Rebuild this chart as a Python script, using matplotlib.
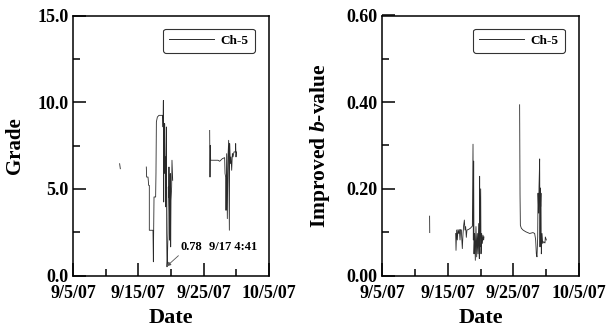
import numpy as np
import pandas as pd
import matplotlib
matplotlib.use("Agg")
import matplotlib.pyplot as plt
import matplotlib.dates as mdates
from matplotlib.ticker import FuncFormatter, MultipleLocator

# ---- data (days since 2007-09-05, value); NaN separates segments ----
base_date = "2007-09-05"

grade_days = [7.14, 7.24, np.nan,
              11.22, 11.27, 11.48, 11.58, 11.68, 11.68, 12.24, 12.30, 12.40, 12.65, 12.70,
              12.76, 12.91, 13.16, 13.72, 13.78, 13.83, 13.88, 13.93, 13.98, 14.03, 14.08,
              14.13, 14.18, 14.23, 14.29, 14.34, 14.39, 14.44, 14.54, 14.59, 14.64, 14.69,
              14.74, 14.80, 14.85, 14.90, 14.95, 15.00, 15.10, 15.15, 15.26, np.nan,
              20.92, 20.97, 21.02, 21.07, 22.19, 22.45, 22.86, 23.21, 23.27, 23.37, 23.42,
              23.52, 23.62, 23.72, 23.83, 23.93, 23.98, 24.08, 24.18, 24.29, 24.39, 24.49,
              24.64, 24.85, 24.90, 24.95, 25.00]
grade_vals = [6.45, 6.16, np.nan,
              6.26, 5.68, 5.68, 5.20, 5.20, 2.61, 2.61, 0.79, 4.53, 4.53, 5.88,
              8.85, 9.14, 9.24, 9.24, 8.57, 10.10, 4.24, 8.76, 6.26, 8.76, 5.88,
              6.84, 3.96, 6.26, 8.57, 2.42, 0.50, 0.78, 2.42, 5.11, 4.53, 6.26,
              4.34, 2.04, 3.96, 5.88, 1.65, 4.34, 5.11, 6.65, 5.49, np.nan,
              8.37, 5.68, 7.51, 6.65, 6.65, 6.59, 6.74, 6.80, 5.88, 5.68, 3.76,
              7.03, 3.28, 6.84, 7.80, 2.61, 7.61, 6.45, 6.84, 6.07, 7.03, 6.84,
              7.13, 7.13, 7.61, 6.84, 7.13]

b_days = [7.25, 7.27, np.nan,
          11.22, 11.27, 11.37, 11.47, 11.57, 11.68, 11.78, 11.88, 11.98, 12.08, 12.23,
          12.34, 12.44, 12.54, 12.64, 12.74, 12.84, 12.94, 13.15, 13.45, 13.76, 13.86,
          13.91, 13.96, 14.01, 14.11, 14.21, 14.31, 14.42, 14.52, 14.62, 14.72, 14.82,
          14.87, 14.92, 15.03, 15.08, 15.18, 15.28, 15.38, 15.48, 15.53, np.nan,
          20.96, 21.02, 21.07, 21.22, 21.47, 21.88, 22.49, 22.99, 23.25, 23.40, 23.50,
          23.60, 23.71, 23.76, 23.86, 23.91, 24.01, 24.06, 24.11, 24.16, 24.21, 24.26,
          24.37, 24.47, 24.62, 24.82, 24.87, 25.03]
b_vals = [0.137, 0.099, np.nan,
          0.097, 0.058, 0.105, 0.082, 0.106, 0.097, 0.106, 0.082, 0.106, 0.105, 0.062,
          0.097, 0.116, 0.128, 0.105, 0.113, 0.088, 0.105, 0.106, 0.109, 0.114, 0.303,
          0.082, 0.264, 0.050, 0.097, 0.035, 0.113, 0.043, 0.097, 0.050, 0.120, 0.039,
          0.229, 0.066, 0.200, 0.050, 0.097, 0.074, 0.093, 0.082, 0.089, np.nan,
          0.394, 0.186, 0.116, 0.109, 0.105, 0.101, 0.097, 0.099, 0.097, 0.082, 0.050,
          0.043, 0.089, 0.190, 0.144, 0.206, 0.269, 0.066, 0.202, 0.159, 0.190, 0.050,
          0.097, 0.074, 0.078, 0.075, 0.089, 0.082]

x_start, x_end = "2007-09-05", "2007-10-05"
series_label = "Ch-5"
annot_value_text = "0.78"
annot_date_text = "9/17 4:41"
annot_point = (14.44, 0.78)

# ---- styling ----
plt.rcParams['font.family'] = ['Liberation Serif', 'DejaVu Serif']
plt.rcParams['font.weight'] = 'bold'
plt.rcParams['mathtext.fontset'] = 'custom'
plt.rcParams['mathtext.it'] = 'Liberation Serif:bold:italic'

BASE = mdates.date2num(pd.Timestamp(base_date).to_pydatetime())


def to_num(days):
    return BASE + np.asarray(days, dtype=float)


def date_fmt(x, pos):
    d = mdates.num2date(x)
    return f"{d.month}/{d.day}/{d.strftime('%y')}"


W, H = 608, 329
fig = plt.figure(figsize=(W / 100, H / 100), dpi=100)
ax1 = fig.add_axes([73 / W, (H - 275.5) / H, 196 / W, 260 / H])
ax2 = fig.add_axes([382 / W, (H - 275.5) / H, 197 / W, 260 / H])

LINE_COLOR = '#2a2a2a'


def style(ax, ymax, ystep, yfmt):
    ax.xaxis_date()
    ax.set_xlim(mdates.date2num(pd.Timestamp(x_start).to_pydatetime()),
                mdates.date2num(pd.Timestamp(x_end).to_pydatetime()))
    ax.xaxis.set_major_locator(mdates.DayLocator(bymonthday=[5, 15, 25]))
    ax.xaxis.set_minor_locator(mdates.DayLocator(bymonthday=[10, 20, 30]))
    ax.xaxis.set_major_formatter(FuncFormatter(date_fmt))
    ax.set_ylim(0, ymax)
    ax.yaxis.set_major_locator(MultipleLocator(ystep))
    ax.yaxis.set_minor_locator(MultipleLocator(ystep / 2))
    ax.yaxis.set_major_formatter(FuncFormatter(lambda v, p: yfmt.format(v)))
    ax.tick_params(which='major', direction='in', length=9.5, width=1.1,
                   labelsize=13, pad=3, top=False, right=False)
    ax.tick_params(axis='x', which='major', pad=7)
    ax.tick_params(which='minor', direction='in', length=5, width=1.1,
                   top=False, right=False)
    for s in ax.spines.values():
        s.set_linewidth(1.1)
    ax.set_xlabel("Date", fontsize=16, fontweight='bold')
    ax.xaxis.set_label_coords(0.5, -0.125)


ax1.plot(to_num(grade_days), grade_vals, color=LINE_COLOR, lw=0.6, label=series_label)
style(ax1, 15.0, 5.0, "{:.1f}")
ax1.set_ylabel("Grade", fontsize=15, fontweight='bold')
ax1.yaxis.set_label_coords(-0.245, 0.5)

ax2.plot(to_num(b_days), b_vals, color=LINE_COLOR, lw=0.6, label=series_label)
style(ax2, 0.60, 0.20, "{:.2f}")
ax2.set_ylabel(r"Improved $\mathit{b}$-value", fontsize=15.5, fontweight='bold')
ax2.yaxis.set_label_coords(-0.255, 0.5)

for ax in (ax1, ax2):
    for lab in ax.get_xticklabels() + ax.get_yticklabels():
        lab.set_fontweight('bold')
    leg = ax.legend(loc='upper right', handlelength=3.4, frameon=True,
                    fancybox=True, edgecolor='black', borderpad=0.45,
                    handletextpad=0.5,
                    bbox_to_anchor=(0.96, 0.975), prop={'weight': 'bold', 'size': 9.5})
    leg.get_frame().set_linewidth(0.8)
    for ln in leg.get_lines():
        ln.set_linewidth(0.7)

# annotation
px = to_num([annot_point[0]])[0]
ax1.annotate(annot_value_text, xy=(px - 0.1, annot_point[1] - 0.25),
             xytext=(px + 2.0, 1.65), fontsize=9, fontweight='bold',
             ha='left', va='center',
             arrowprops=dict(arrowstyle='-|>', color='#555555', lw=0.6,
                             mutation_scale=6, shrinkA=0, shrinkB=0,
                             relpos=(0.05, 0.0)))
ax1.text(px + 6.3, 1.65, annot_date_text, fontsize=9, fontweight='bold',
         ha='left', va='center')

fig.savefig("out.png", dpi=100)
